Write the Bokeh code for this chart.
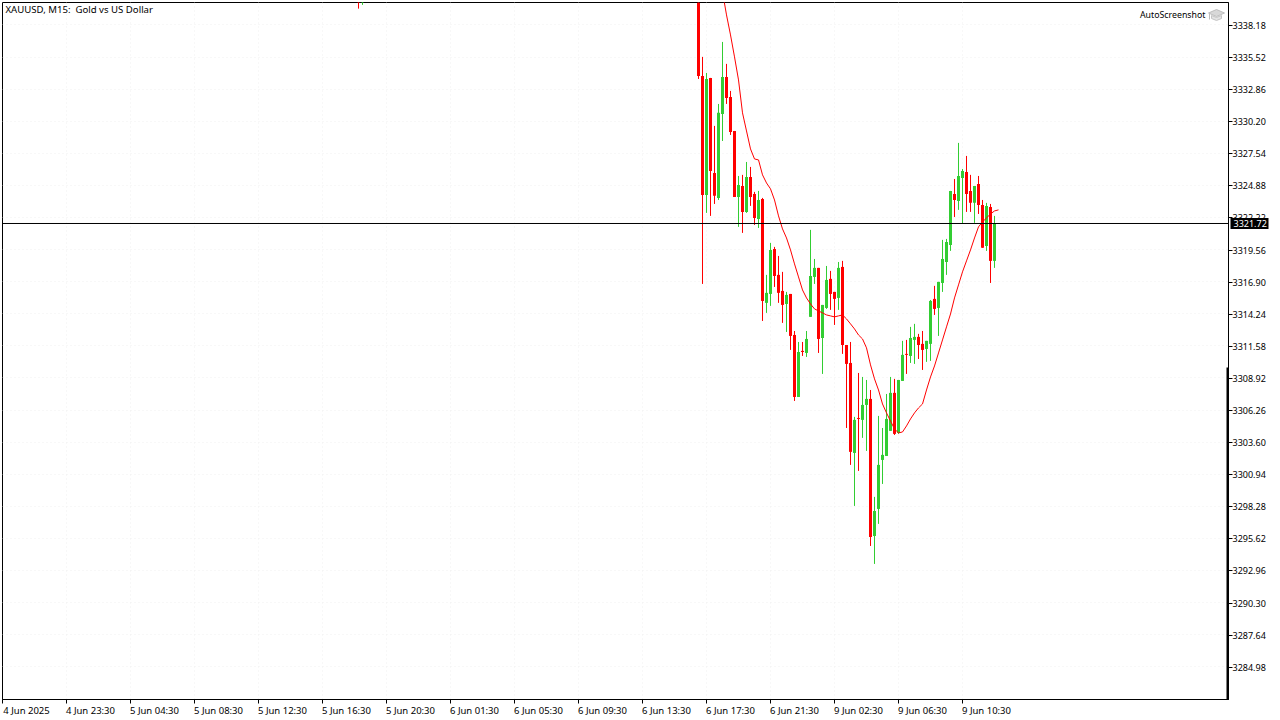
from bokeh.plotting import figure
from bokeh.models import (FixedTicker, Label, Span, BoxAnnotation, Range1d, PrintfTickFormatter, ColumnDataSource, LinearAxis)
from bokeh.embed import file_html
from bokeh.resources import INLINE

FONT = "Noto Sans"
RED = "#ff0000"
GREEN = "#32cd32"

time_labels = ["4 Jun 2025", "4 Jun 23:30", "5 Jun 04:30", "5 Jun 08:30", "5 Jun 12:30", "5 Jun 16:30",
               "5 Jun 20:30", "6 Jun 01:30", "6 Jun 05:30", "6 Jun 09:30", "6 Jun 13:30", "6 Jun 17:30",
               "6 Jun 21:30", "9 Jun 02:30", "9 Jun 06:30", "9 Jun 10:30"]
price_ticks = [3338.18, 3335.52, 3332.86, 3330.20, 3327.54, 3324.88, 3322.22, 3319.56, 3316.90, 3314.24,
               3311.58, 3308.92, 3306.26, 3303.60, 3300.94, 3298.28, 3295.62, 3292.96, 3290.30, 3287.64, 3284.98]
last_price = 3321.72

early_idx = [89, 90]
early_open = [3341.20, 3340.70]
early_high = [3341.60, 3341.50]
early_low = [3339.53, 3339.84]
early_close = [3340.60, 3341.10]

first_idx = 174
opens = [3342.50, 3333.95, 3324.09, 3333.79, 3325.91, 3323.84, 3330.80, 3333.87, 3332.21, 3329.39,
         3323.92, 3324.83, 3322.68, 3325.58, 3324.17, 3322.10, 3323.76, 3315.14, 3315.88, 3319.61,
         3317.46, 3316.13, 3315.05, 3315.88, 3312.48, 3307.34, 3311.16, 3310.99, 3313.98, 3317.29,
         3318.04, 3312.23, 3314.72, 3317.13, 3316.05, 3315.55, 3318.12, 3311.65, 3310.16, 3302.70,
         3305.60, 3305.44, 3306.68, 3307.18, 3295.82, 3298.06, 3302.12, 3302.45, 3304.53, 3307.68,
         3304.36, 3308.67, 3310.91, 3310.74, 3312.07, 3312.32, 3311.74, 3311.32, 3311.74, 3315.47,
         3314.72, 3316.79, 3318.53, 3319.94, 3324.17, 3323.59, 3325.50, 3325.99, 3324.42, 3323.43,
         3325.00, 3323.26, 3319.86, 3323.09, 3318.62]
highs = [3343.20, 3335.53, 3334.20, 3333.79, 3329.81, 3331.63, 3336.77, 3334.95, 3332.71, 3329.39,
         3325.66, 3325.75, 3326.82, 3326.41, 3324.34, 3324.42, 3323.84, 3317.46, 3320.11, 3319.78,
         3319.03, 3317.71, 3316.05, 3315.88, 3312.81, 3311.90, 3311.90, 3312.81, 3321.19, 3318.78,
         3318.04, 3314.97, 3318.20, 3317.79, 3316.05, 3318.53, 3318.62, 3311.65, 3311.90, 3305.69,
         3309.33, 3309.00, 3308.75, 3307.92, 3299.06, 3305.77, 3304.77, 3307.59, 3309.00, 3308.84,
         3308.75, 3311.99, 3312.07, 3313.15, 3313.40, 3312.57, 3312.81, 3311.99, 3315.38, 3316.55,
         3316.88, 3320.36, 3320.44, 3324.42, 3325.41, 3328.40, 3326.24, 3327.32, 3325.75, 3324.83,
         3325.66, 3323.67, 3323.43, 3323.34, 3322.35]
lows = [3333.70, 3316.71, 3322.60, 3322.35, 3323.34, 3323.67, 3328.56, 3331.63, 3329.06, 3323.92,
        3321.44, 3320.94, 3322.60, 3323.18, 3321.60, 3321.35, 3313.64, 3314.31, 3314.89, 3316.46,
        3315.14, 3313.48, 3312.73, 3311.24, 3307.01, 3307.34, 3310.74, 3310.66, 3313.98, 3316.71,
        3310.99, 3309.25, 3314.64, 3314.56, 3313.31, 3314.56, 3310.91, 3304.77, 3301.71, 3298.31,
        3301.21, 3303.95, 3302.87, 3294.99, 3293.50, 3296.82, 3300.13, 3302.45, 3304.53, 3304.19,
        3304.28, 3308.67, 3309.25, 3310.16, 3310.08, 3310.49, 3309.58, 3310.25, 3310.33, 3314.14,
        3312.40, 3316.05, 3317.46, 3319.45, 3322.26, 3322.85, 3321.68, 3322.68, 3322.68, 3321.77,
        3322.51, 3319.70, 3319.45, 3316.79, 3318.04]
closes = [3333.95, 3324.09, 3333.70, 3326.08, 3324.01, 3330.89, 3333.87, 3332.13, 3329.31, 3323.92,
          3324.92, 3322.68, 3325.58, 3323.92, 3322.18, 3323.67, 3315.30, 3315.97, 3319.53, 3317.37,
          3315.97, 3314.97, 3315.80, 3312.40, 3307.34, 3311.07, 3311.07, 3312.15, 3317.37, 3318.04,
          3312.15, 3314.97, 3317.04, 3315.88, 3315.47, 3318.04, 3311.65, 3310.08, 3302.79, 3305.44,
          3305.52, 3306.68, 3307.18, 3295.74, 3297.89, 3301.71, 3302.54, 3305.52, 3307.68, 3304.28,
          3308.75, 3310.83, 3310.83, 3312.23, 3312.32, 3311.65, 3311.24, 3311.99, 3315.30, 3314.64,
          3316.88, 3318.78, 3320.19, 3324.42, 3323.67, 3325.66, 3326.08, 3324.17, 3323.43, 3324.83,
          3323.26, 3319.70, 3323.18, 3318.62, 3321.72]

ma_first_idx = 180
ma_values = [3340.92, 3339.01, 3337.35, 3335.53, 3333.62, 3330.89, 3329.39, 3327.90, 3327.07, 3326.99,
             3325.75, 3325.08, 3324.59, 3323.67, 3322.35, 3321.27, 3320.52, 3319.53, 3318.37, 3317.29,
             3316.21, 3315.55, 3315.05, 3314.64, 3314.47, 3314.31, 3314.14, 3314.06, 3313.98, 3314.06,
             3314.14, 3313.81, 3313.40, 3312.98, 3312.48, 3312.15, 3311.41, 3310.00, 3308.84, 3307.92,
             3306.76, 3306.02, 3305.35, 3304.69, 3304.36, 3304.44, 3304.94, 3305.52, 3306.02, 3306.43,
             3306.76, 3307.92, 3309.00, 3309.91, 3310.99, 3312.07, 3313.15, 3314.22, 3315.55, 3316.63,
             3317.71, 3318.62, 3319.53, 3320.52, 3321.44, 3321.85, 3322.18, 3322.51, 3322.76, 3322.85]

W, H = 1280, 720
L_PAD, R_PAD, T_PAD, B_PAD = 2, 52, 2, 21
PX_PER_BAR = 4.0
PX_PER_PRICE = 32.09 / 2.66
TICK_LABEL_SHIFT_BARS = 6
TAG_STANDOFF = -35

def fx(px):
    return (px - 2.0) / PX_PER_BAR

def fy(py, off=24.42):
    return 3338.18 - (py - off) / PX_PER_PRICE

p = figure(width=W, height=H, output_backend="svg", toolbar_location=None,
           x_range=Range1d(fx(L_PAD), fx(W - R_PAD)), y_range=Range1d(fy(H - B_PAD), fy(T_PAD)),
           x_axis_location="below", y_axis_location="right",
           min_border_left=L_PAD, min_border_right=R_PAD, min_border_top=T_PAD, min_border_bottom=B_PAD,
           background_fill_color="white", border_fill_color="white", outline_line_color="black")
p.styles = {"position": "absolute", "left": "0px", "top": "0px"}
p.extra_y_ranges = {"ticks": Range1d(fy(H - B_PAD, 24.9), fy(T_PAD, 24.9))}

x_ticks = [16 * k for k in range(len(time_labels))]
xa = p.xaxis[0]
xa.ticker = FixedTicker(ticks=x_ticks)
xa.major_label_overrides = {t: "" for t in x_ticks}
xa.major_label_text_font_size = "1px"
xa.major_label_standoff = 0
xa.major_tick_in = 0
xa.major_tick_out = 4
xa.minor_tick_out = 0
xa.minor_tick_in = 0
xa.major_tick_line_color = "black"
xa.axis_line_color = "black"

label_ticks = [t + TICK_LABEL_SHIFT_BARS for t in x_ticks]
xb = LinearAxis(ticker=FixedTicker(ticks=label_ticks),
                major_label_overrides={t: s for t, s in zip(label_ticks, time_labels)},
                major_label_text_font=FONT, major_label_text_font_size="9.5px", major_label_text_color="black",
                major_label_standoff=0, major_tick_in=0, major_tick_out=0, minor_tick_in=0, minor_tick_out=0,
                axis_line_color=None, major_tick_line_color=None)
p.add_layout(xb, "below")

ya = p.yaxis[0]
ya.y_range_name = "ticks"
ya.ticker = FixedTicker(ticks=price_ticks)
ya.formatter = PrintfTickFormatter(format="%.2f")
ya.major_label_text_font = FONT
ya.major_label_text_font_size = "9px"
ya.major_label_text_color = "black"
ya.major_label_standoff = 0
ya.major_tick_in = 0
ya.major_tick_out = 4
ya.minor_tick_out = 0
ya.minor_tick_in = 0
ya.major_tick_line_color = "black"
ya.axis_line_color = "black"

tag_axis = LinearAxis(ticker=FixedTicker(ticks=[last_price]), formatter=PrintfTickFormatter(format="%.2f"),
                      major_label_text_font=FONT, major_label_text_font_size="9px", major_label_text_color="white",
                      major_label_standoff=TAG_STANDOFF, major_tick_in=38, major_tick_out=0,
                      minor_tick_in=0, minor_tick_out=0, axis_line_color=None,
                      major_tick_line_color="black", major_tick_line_width=11, major_tick_line_cap="butt",
                      level="overlay")
p.add_layout(tag_axis, "right")

p.xgrid.ticker = FixedTicker(ticks=x_ticks)
p.ygrid.ticker = FixedTicker(ticks=price_ticks)
for g in (p.xgrid, p.ygrid):
    g.grid_line_color = "#f1f1f1"
    g.grid_line_dash = "1 3"
    g.grid_line_width = 1

all_idx = early_idx + [first_idx + i for i in range(len(opens))]
all_o = early_open + opens
all_h = early_high + highs
all_l = early_low + lows
all_c = early_close + closes
colors = [GREEN if c > o else RED for o, c in zip(all_o, all_c)]
src = ColumnDataSource(dict(
    x=all_idx, high=all_h, low=all_l, color=colors,
    top=[max(o, c) for o, c in zip(all_o, all_c)],
    bottom=[min(o, c) for o, c in zip(all_o, all_c)],
))
p.segment("x", "high", "x", "low", color="color", line_width=1, source=src)
p.vbar("x", width=0.75, top="top", bottom="bottom", fill_color="color", line_color=None, source=src)

p.line([ma_first_idx + i for i in range(len(ma_values))], ma_values, line_color=RED, line_width=1)

p.add_layout(Span(location=last_price, dimension="width", line_color="black", line_width=1))
p.add_layout(BoxAnnotation(left=W - R_PAD - 2, right=W - R_PAD + 1, left_units="canvas", right_units="canvas",
                           top=fy(367), bottom=fy(H - B_PAD), fill_color="black", fill_alpha=1, line_color=None,
                           level="annotation"))

# AutoScreenshot icon
p.patch([fx(v) for v in (1208, 1216, 1224, 1216)], [fy(v) for v in (12.5, 9, 12.5, 16)],
        fill_color="#d8d8d8", line_color="#bdbdbd")
p.patch([fx(v) for v in (1211, 1216, 1221, 1221, 1216, 1211)], [fy(v) for v in (15, 17, 15, 18, 20, 18)],
        fill_color="#e4e4e4", line_color="#c4c4c4")
p.segment([fx(1209)], [fy(13)], [fx(1209)], [fy(19)], color="#bdbdbd")

p.add_layout(Label(x=fx(5), y=fy(9), text="XAUUSD, M15:\u00a0 Gold vs US Dollar", text_font=FONT,
                   text_font_size="9.6px", text_baseline="middle", text_color="black"))
p.add_layout(Label(x=fx(1205), y=fy(14), text="AutoScreenshot", text_font=FONT, text_font_size="8.8px",
                   text_baseline="middle", text_align="right", text_color="black"))

open("out.html", "w").write(file_html(p, INLINE))
